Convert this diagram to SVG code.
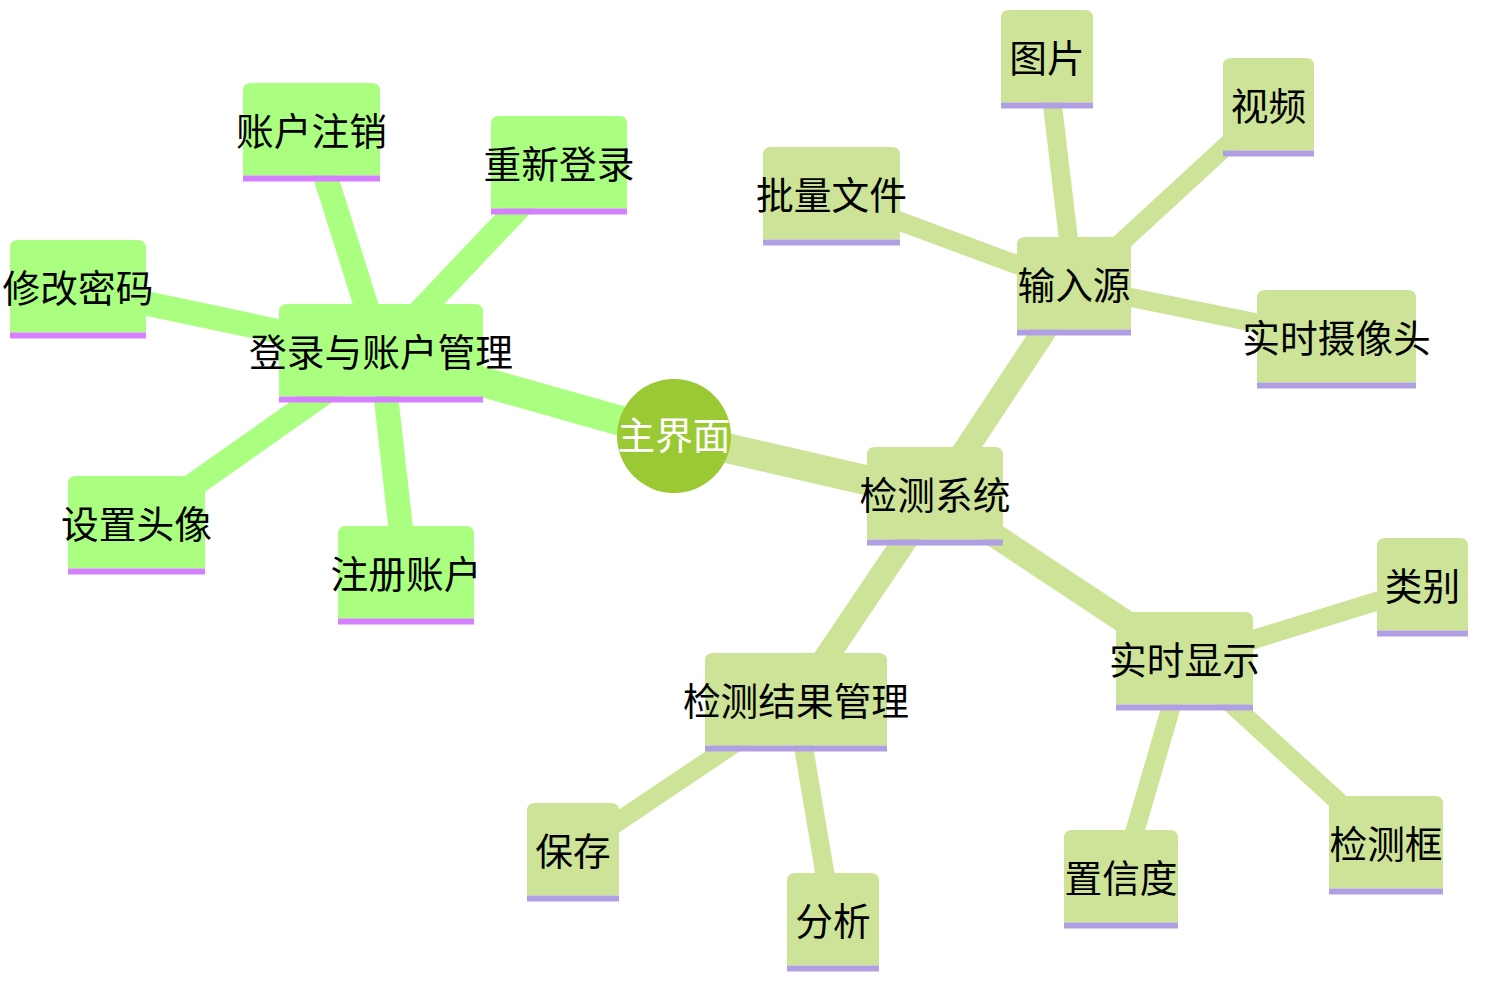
<svg xmlns="http://www.w3.org/2000/svg" width="1486" height="986" viewBox="0 0 1486 986">
<style>
.e{fill:none;stroke-linecap:butt}
.g{stroke:#aaff80}
.l{stroke:#cde498}
.d0{stroke-width:30}
.d1{stroke-width:24.5}
.d2{stroke-width:19}
.nb{fill:#aaff80}
.nl{fill:#cde498}
.sg{fill:#d580ff}
.sl{fill:#b19fe3}
text{font-family:"Noto Sans CJK SC","Noto Sans",sans-serif;font-size:37.7px;text-anchor:middle;dominant-baseline:central;fill:#000}
.rt{fill:#fff}
</style>
<rect width="1486" height="986" fill="#fff"/>
<g id="connectors">
<line class="e g d0" x1="674" y1="436" x2="381" y2="353"/>
<line class="e l d0" x1="674" y1="436" x2="935" y2="496"/>
<line class="e g d1" x1="381" y1="353" x2="311.5" y2="132"/>
<line class="e g d1" x1="381" y1="353" x2="559" y2="165"/>
<line class="e g d1" x1="381" y1="353" x2="78" y2="289"/>
<line class="e g d1" x1="381" y1="353" x2="136.5" y2="525"/>
<line class="e g d1" x1="381" y1="353" x2="406" y2="575"/>
<line class="e l d1" x1="935" y1="496" x2="1074" y2="286"/>
<line class="e l d1" x1="935" y1="496" x2="1184.5" y2="661"/>
<line class="e l d1" x1="935" y1="496" x2="796" y2="702"/>
<line class="e l d2" x1="1074" y1="286" x2="1047" y2="59"/>
<line class="e l d2" x1="1074" y1="286" x2="1268.5" y2="107"/>
<line class="e l d2" x1="1074" y1="286" x2="831.5" y2="196"/>
<line class="e l d2" x1="1074" y1="286" x2="1336.5" y2="339"/>
<line class="e l d2" x1="1184.5" y1="661" x2="1422.5" y2="587"/>
<line class="e l d2" x1="1184.5" y1="661" x2="1386" y2="845"/>
<line class="e l d2" x1="1184.5" y1="661" x2="1121" y2="879"/>
<line class="e l d2" x1="796" y1="702" x2="573" y2="852"/>
<line class="e l d2" x1="796" y1="702" x2="833" y2="922"/>
</g>
<g id="root">
<circle cx="674" cy="436" r="57" fill="#9bc934"/>
<text class="rt" x="674" y="432.5">主界面</text>
</g>
<g id="n-login">
<path class="nb" d="M279,396.5 V312 Q279,304 287,304 H475 Q483,304 483,312 V396.5 Z"/>
<rect class="sg" x="279" y="396.5" width="204" height="6"/>
<text x="381" y="349">登录与账户管理</text>
</g>
<g id="n-cancel">
<path class="nb" d="M243,175.5 V91 Q243,83 251,83 H372 Q380,83 380,91 V175.5 Z"/>
<rect class="sg" x="243" y="175.5" width="137" height="6"/>
<text x="311.5" y="128">账户注销</text>
</g>
<g id="n-relogin">
<path class="nb" d="M491,208.5 V124 Q491,116 499,116 H619 Q627,116 627,124 V208.5 Z"/>
<rect class="sg" x="491" y="208.5" width="136" height="6"/>
<text x="559" y="161">重新登录</text>
</g>
<g id="n-pwd">
<path class="nb" d="M10,332.5 V248 Q10,240 18,240 H138 Q146,240 146,248 V332.5 Z"/>
<rect class="sg" x="10" y="332.5" width="136" height="6"/>
<text x="78" y="285">修改密码</text>
</g>
<g id="n-avatar">
<path class="nb" d="M68,568.5 V484 Q68,476 76,476 H197 Q205,476 205,484 V568.5 Z"/>
<rect class="sg" x="68" y="568.5" width="137" height="6"/>
<text x="136.5" y="521">设置头像</text>
</g>
<g id="n-register">
<path class="nb" d="M338,618.5 V534 Q338,526 346,526 H466 Q474,526 474,534 V618.5 Z"/>
<rect class="sg" x="338" y="618.5" width="136" height="6"/>
<text x="406" y="571">注册账户</text>
</g>
<g id="n-detect">
<path class="nl" d="M867,539.5 V455 Q867,447 875,447 H995 Q1003,447 1003,455 V539.5 Z"/>
<rect class="sl" x="867" y="539.5" width="136" height="6"/>
<text x="935" y="492">检测系统</text>
</g>
<g id="n-input">
<path class="nl" d="M1017,329.5 V245 Q1017,237 1025,237 H1123 Q1131,237 1131,245 V329.5 Z"/>
<rect class="sl" x="1017" y="329.5" width="114" height="6"/>
<text x="1074" y="282">输入源</text>
</g>
<g id="n-image">
<path class="nl" d="M1001,102.5 V18 Q1001,10 1009,10 H1085 Q1093,10 1093,18 V102.5 Z"/>
<rect class="sl" x="1001" y="102.5" width="92" height="6"/>
<text x="1047" y="55">图片</text>
</g>
<g id="n-video">
<path class="nl" d="M1223,150.5 V66 Q1223,58 1231,58 H1306 Q1314,58 1314,66 V150.5 Z"/>
<rect class="sl" x="1223" y="150.5" width="91" height="6"/>
<text x="1268.5" y="103">视频</text>
</g>
<g id="n-batch">
<path class="nl" d="M763,239.5 V155 Q763,147 771,147 H892 Q900,147 900,155 V239.5 Z"/>
<rect class="sl" x="763" y="239.5" width="137" height="6"/>
<text x="831.5" y="192">批量文件</text>
</g>
<g id="n-camera">
<path class="nl" d="M1257,382.5 V298 Q1257,290 1265,290 H1408 Q1416,290 1416,298 V382.5 Z"/>
<rect class="sl" x="1257" y="382.5" width="159" height="6"/>
<text x="1336.5" y="335">实时摄像头</text>
</g>
<g id="n-realtime">
<path class="nl" d="M1116,704.5 V620 Q1116,612 1124,612 H1245 Q1253,612 1253,620 V704.5 Z"/>
<rect class="sl" x="1116" y="704.5" width="137" height="6"/>
<text x="1184.5" y="657">实时显示</text>
</g>
<g id="n-class">
<path class="nl" d="M1377,630.5 V546 Q1377,538 1385,538 H1460 Q1468,538 1468,546 V630.5 Z"/>
<rect class="sl" x="1377" y="630.5" width="91" height="6"/>
<text x="1422.5" y="583">类别</text>
</g>
<g id="n-box">
<path class="nl" d="M1329,888.5 V804 Q1329,796 1337,796 H1435 Q1443,796 1443,804 V888.5 Z"/>
<rect class="sl" x="1329" y="888.5" width="114" height="6"/>
<text x="1386" y="841">检测框</text>
</g>
<g id="n-conf">
<path class="nl" d="M1064,922.5 V838 Q1064,830 1072,830 H1170 Q1178,830 1178,838 V922.5 Z"/>
<rect class="sl" x="1064" y="922.5" width="114" height="6"/>
<text x="1121" y="875">置信度</text>
</g>
<g id="n-result">
<path class="nl" d="M705,745.5 V661 Q705,653 713,653 H879 Q887,653 887,661 V745.5 Z"/>
<rect class="sl" x="705" y="745.5" width="182" height="6"/>
<text x="796" y="698">检测结果管理</text>
</g>
<g id="n-save">
<path class="nl" d="M527,895.5 V811 Q527,803 535,803 H611 Q619,803 619,811 V895.5 Z"/>
<rect class="sl" x="527" y="895.5" width="92" height="6"/>
<text x="573" y="848">保存</text>
</g>
<g id="n-analyze">
<path class="nl" d="M787,965.5 V881 Q787,873 795,873 H871 Q879,873 879,881 V965.5 Z"/>
<rect class="sl" x="787" y="965.5" width="92" height="6"/>
<text x="833" y="918">分析</text>
</g>
</svg>
